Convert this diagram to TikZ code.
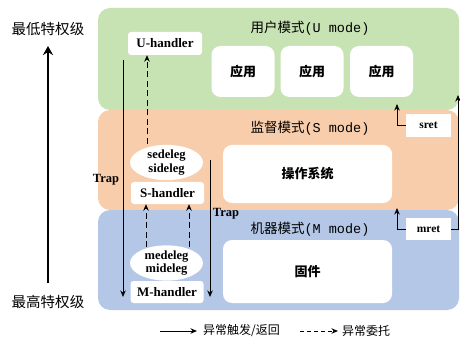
\documentclass[tikz,border=0pt]{standalone}
\usepackage{fontspec}
\setmainfont{Liberation Serif}
\newfontfamily\cjk{Noto Sans CJK SC}
\newfontfamily\monof{Liberation Mono}
\usetikzlibrary{arrows.meta,shapes.geometric}
\definecolor{bgreen}{HTML}{C8E3B3}
\definecolor{borange}{HTML}{F8CDAB}
\definecolor{bblue}{HTML}{B4C7E7}
\begin{document}
\begin{tikzpicture}[x=1pt,y=-1pt,
  band/.style={rounded corners=12pt,draw=none},
  bigbox/.style={fill=white,rounded corners=9pt,draw=none,inner sep=0pt,font=\cjk\bfseries\fontsize{13}{13}\selectfont},
  hbox/.style={fill=white,rounded corners=3pt,inner sep=0pt,minimum width=73pt,minimum height=22pt,font=\fontsize{13}{13}\selectfont\bfseries},
  elli/.style={ellipse,fill=white,inner sep=0pt,minimum width=73pt,minimum height=35pt,align=center,font=\fontsize{12.5}{13.5}\selectfont\bfseries},
  rbox/.style={fill=white,inner sep=0pt,minimum width=45pt,minimum height=22pt,font=\fontsize{11.5}{12}\selectfont\bfseries},
  modelbl/.style={font=\fontsize{13.5}{14}\selectfont},
  sidelbl/.style={font=\cjk\fontsize{14.5}{15}\selectfont},
  traplbl/.style={font=\fontsize{12.5}{13}\selectfont\bfseries},
  legtxt/.style={anchor=west,inner sep=0pt,font=\cjk\fontsize{12}{12}\selectfont},
  sarrow/.style={-{Stealth[length=6.5pt,width=5.5pt]},line width=1pt},
  darrow/.style={-{Stealth[length=6.5pt,width=5.5pt]},line width=1pt,dash pattern=on 6pt off 3.5pt},
]
\useasboundingbox (0,0) rectangle (460,339);
% bands
\fill[band,bgreen] (98,8) rectangle (459,110);
\fill[band,borange] (98,110) rectangle (459,210);
\fill[band,bblue] (98,210) rectangle (459,310);

% side labels and privilege arrow
\node[sidelbl] (low) at (48,29) {最低特权级};
\node[sidelbl] (high) at (48,302) {最高特权级};
\coordinate (pbot) at (48,283);
\coordinate (ptop) at (48,46);
\draw[line width=2.5pt,-{Stealth[length=9pt,width=10pt]}] (pbot) -- (ptop);

% mode labels
\node[modelbl] (ulbl) at (310,28) {{\cjk 用户模式}{\monof (U mode)}};
\node[modelbl] (slbl) at (310,128) {{\cjk 监督模式}{\monof (S mode)}};
\node[modelbl] (mlbl) at (310,229) {{\cjk 机器模式}{\monof (M mode)}};

% big white boxes
\node[bigbox,minimum width=63pt,minimum height=51pt] (app1) at (243,71.5) {应用};
\node[bigbox,minimum width=63pt,minimum height=51pt] (app2) at (312,71.5) {应用};
\node[bigbox,minimum width=63pt,minimum height=51pt] (app3) at (381.5,71.5) {应用};
\node[bigbox,minimum width=169pt,minimum height=58pt] (os) at (307.5,174) {操作系统};
\node[bigbox,minimum width=169pt,minimum height=63pt] (fw) at (307.5,271.5) {固件};

% handlers
\node[hbox,minimum width=74pt,minimum height=23pt] (uh) at (165,43.5) {U-handler};
\node[hbox] (sh) at (167.5,193) {S-handler};
\node[hbox] (mh) at (167,292) {M-handler};
\node[elli] (sed) at (166.5,162.5) {sedeleg\\sideleg};
\node[elli,minimum height=34pt] (med) at (166.5,263) {medeleg\\mideleg};

% ret boxes
\node[rbox,minimum height=23pt] (sret) at (428.5,125.5) {sret};
\node[rbox] (mret) at (428.5,229) {mret};

% trap lines
\coordinate (t1s) at (123,60);
\coordinate (t1e) at (123,297);
\coordinate (t2s) at (210,160);
\coordinate (t2e) at (210,297);
\draw[sarrow] (t1s) -- (t1e);
\draw[sarrow] (t2s) -- (t2e);
\node[traplbl] (trap1) at (106,180) {Trap};
\node[traplbl] (trap2) at (226,214) {Trap};

% delegation arrows
\coordinate (d1s) at (147,144);
\coordinate (d2s) at (146,247);
\coordinate (d3s) at (189,247);
\draw[darrow] (d1s) -- (d1s |- uh.south);
\draw[darrow] (d2s) -- (d2s |- sh.south);
\draw[darrow] (d3s) -- (d3s |- sh.south);

% return arrows
\coordinate (sretup) at (397,104);
\coordinate (mretup) at (397,208);
\coordinate (mretup2) at (458,95);
\draw[sarrow] (sret.west) -| (sretup);
\draw[sarrow] (mret.west) -| (mretup);
\draw[sarrow] (mret.east) -| (mretup2);

% legend
\coordinate (l1a) at (160,331);
\coordinate (l1b) at (197,331);
\coordinate (l2a) at (300,331);
\coordinate (l2b) at (338,331);
\draw[sarrow] (l1a) -- (l1b);
\node[legtxt] (leg1) at (203,331) {异常触发/返回};
\draw[darrow,dash pattern=on 4pt off 3pt] (l2a) -- (l2b);
\node[legtxt] (leg2) at (342,331) {异常委托};
\end{tikzpicture}
\end{document}
